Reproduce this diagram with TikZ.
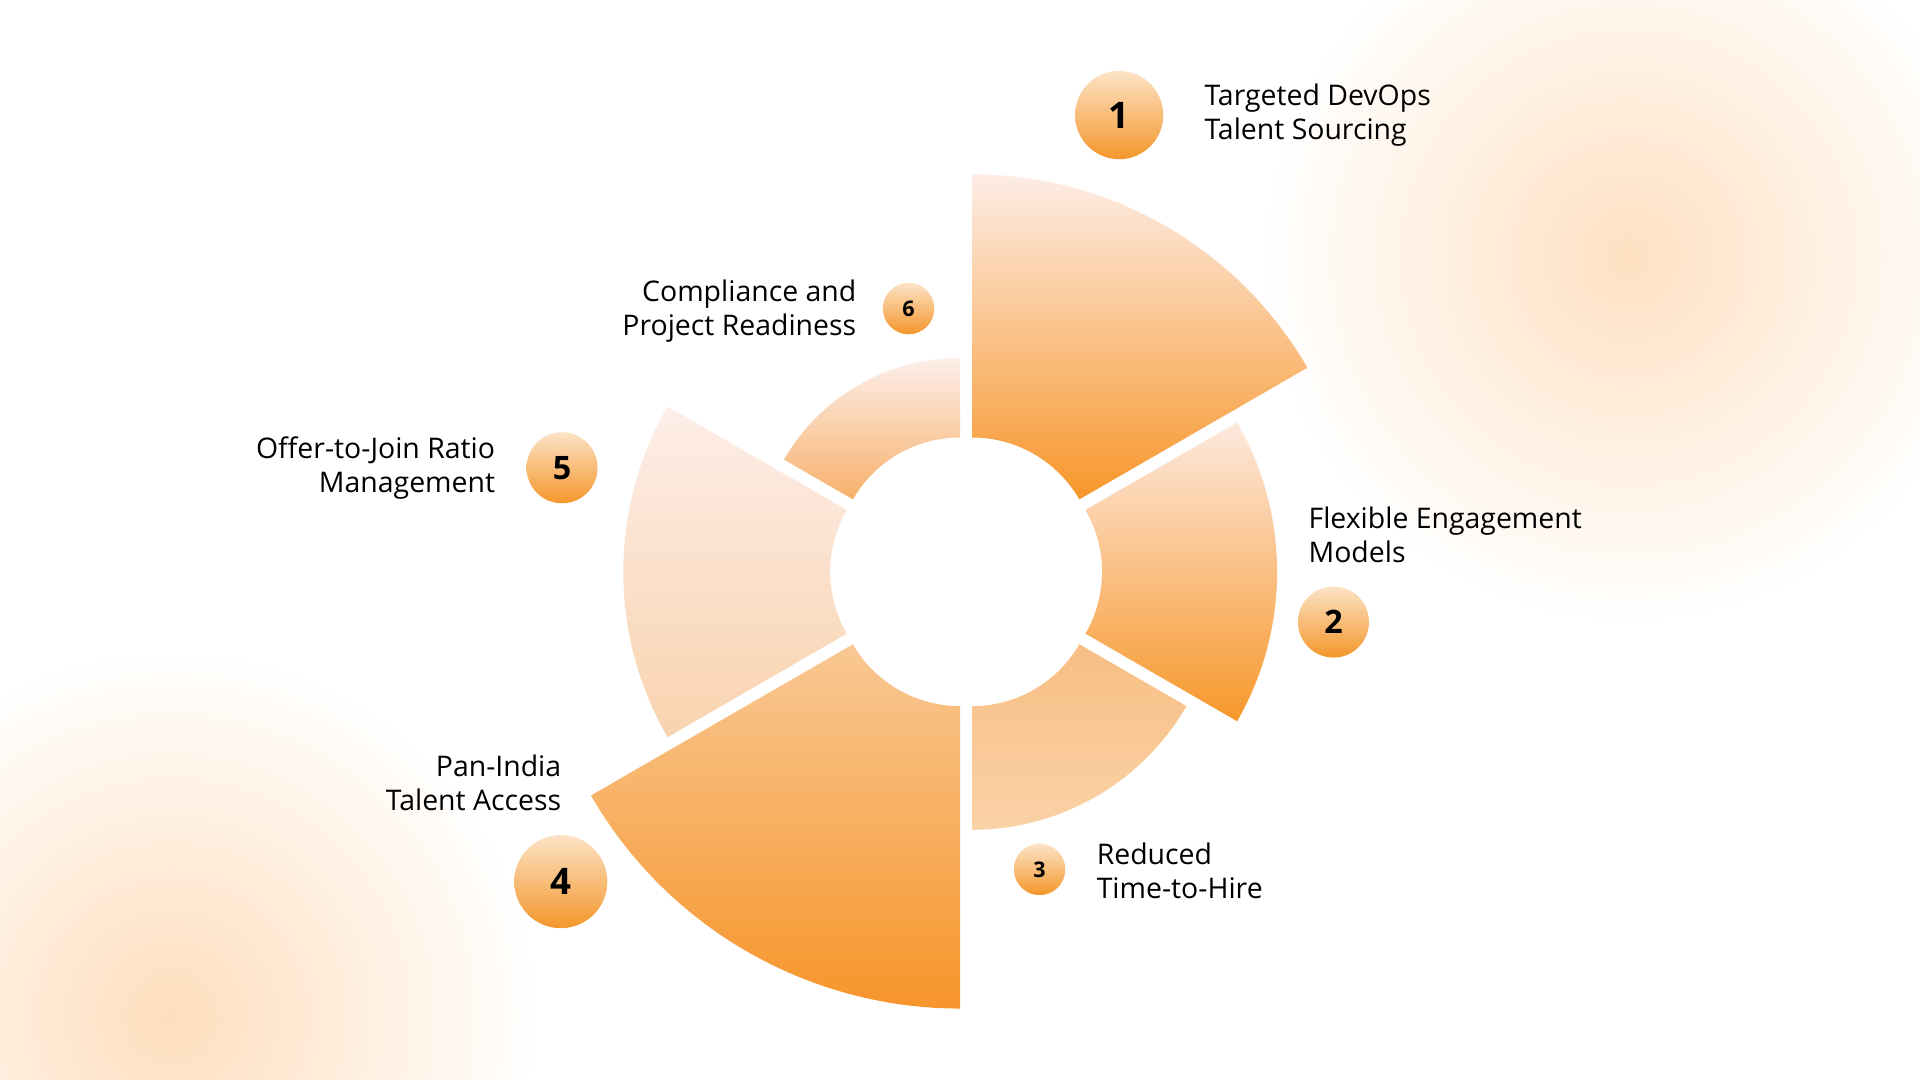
\documentclass[tikz,border=0pt]{standalone}
\usepackage{fontspec}
\setmainfont{Open Sans}
\begin{document}
\begin{tikzpicture}[x=0.01cm,y=0.01cm]
\useasboundingbox (0,0) rectangle (1568,882);
\fill[white] (0,0) rectangle (1568,882);
\begin{scope}
\clip (0,0) rectangle (1568,882);
\shade[inner color=orange!24,outer color=white] (1330,672) circle[radius=3.0cm];
\shade[inner color=orange!26,outer color=white] (140,52) circle[radius=3.0cm];
\end{scope}
\newcommand{\seg}[5]{%
\pgfmathsetmacro{\mida}{#1+30}%
\begin{scope}[shift={(789,415)},shift={(\mida:10)}]
\shade[top color=#4,bottom color=#5] (#1:101) -- (#1:#3) arc[start angle=#1,end angle=#1+60,radius=#3*0.01cm] -- (#1+60:101) arc[start angle=#1+60,end angle=#1,radius=1.01cm] -- cycle;
\end{scope}}
\definecolor{s1t}{HTML}{FDEDE6}\definecolor{s1b}{HTML}{F7962A}
\definecolor{s2t}{HTML}{FDE9DE}\definecolor{s2b}{HTML}{F7972A}
\definecolor{s3t}{HTML}{F7BE84}\definecolor{s3b}{HTML}{FAD2A6}
\definecolor{s4t}{HTML}{F8C894}\definecolor{s4b}{HTML}{F7952A}
\definecolor{s5t}{HTML}{FDEEE8}\definecolor{s5b}{HTML}{F9D3AE}
\definecolor{s6t}{HTML}{FDEFEA}\definecolor{s6b}{HTML}{F7B06A}
\definecolor{ct}{HTML}{FCE3C6}\definecolor{cb}{HTML}{F4962B}
\seg{30}{0}{316}{s1t}{s1b}
\seg{-30}{0}{244}{s2t}{s2b}
\seg{-90}{0}{202}{s3t}{s3b}
\seg{210}{0}{348}{s4t}{s4b}
\seg{150}{0}{270}{s5t}{s5b}
\seg{90}{0}{166}{s6t}{s6b}
\tikzset{num/.style={circle,top color=ct,bottom color=cb,font=\bfseries,inner sep=0pt},
lab/.style={font=\fontsize{6.6}{7.9}\selectfont,inner sep=0pt}}
\node[num,minimum size=2*0.36cm,font=\bfseries\fontsize{8.5}{9}\selectfont] (n1) at (914,788) {1};
\node[num,minimum size=2*0.29cm,font=\bfseries\fontsize{7.5}{9}\selectfont] (n2) at (1089,374) {2};
\node[num,minimum size=2*0.21cm,font=\bfseries\fontsize{5}{6}\selectfont] (n3) at (849,172) {3};
\node[num,minimum size=2*0.38cm,font=\bfseries\fontsize{8.5}{9}\selectfont] (n4) at (458,162) {4};
\node[num,minimum size=2*0.29cm,font=\bfseries\fontsize{7.5}{9}\selectfont] (n5) at (459,500) {5};
\node[num,minimum size=2*0.21cm,font=\bfseries\fontsize{5}{6}\selectfont] (n6) at (742,630) {6};
\node[lab,anchor=west,align=left] (t1) at (983,788) {Targeted DevOps\\Talent Sourcing};
\node[lab,anchor=west,align=left] (t2) at (1068,445) {Flexible Engagement\\Models};
\node[lab,anchor=west,align=left] (t3) at (895,171) {Reduced\\Time-to-Hire};
\node[lab,anchor=east,align=right] (t4) at (459,243) {Pan-India\\Talent Access};
\node[lab,anchor=east,align=right] (t5) at (405,500) {Offer-to-Join Ratio\\Management};
\node[lab,anchor=east,align=right] (t6) at (700,628) {Compliance and\\Project Readiness};
\end{tikzpicture}
\end{document}
